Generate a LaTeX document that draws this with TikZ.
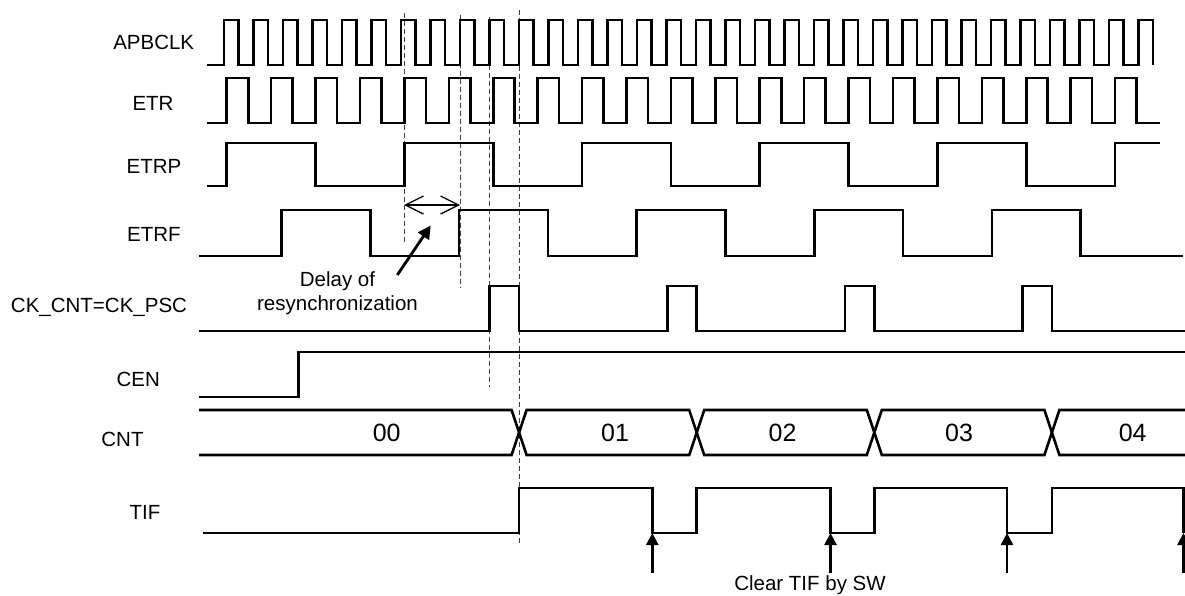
\documentclass[tikz,border=0pt]{standalone}
\usepackage{fontspec}
\setmainfont{Liberation Sans}
\usetikzlibrary{arrows.meta}
\begin{document}
\begin{tikzpicture}[x=1pt,y=-1pt,
  wave/.style={line width=2.6pt},
  guide/.style={line width=0.9pt, black!75, dash pattern=on 5pt off 3pt},
  lbl/.style={font=\fontsize{20.5}{24}\selectfont, inner sep=0pt, anchor=base},
  val/.style={font=\fontsize{25}{28}\selectfont, inner sep=0pt, anchor=base},
  clr/.style={line width=2.6pt, -{Triangle[length=12pt,width=12pt]}},
  ptr/.style={line width=2.8pt, -{Triangle[length=13pt,width=13pt]}},
  dly/.style={line width=1.3pt, {Straight Barb[length=18pt,width=18pt]}-{Straight Barb[length=18pt,width=18pt]}},
]
\useasboundingbox (0,0) rectangle (1185,595);

% signal labels
\node[lbl] (lapb)  at (153.7,49.3) {APBCLK};
\node[lbl] (letr)  at (153,110.7) {ETR};
\node[lbl] (letrp) at (154,173.3) {ETRP};
\node[lbl] (letrf) at (154,241) {ETRF};
\node[lbl] (lck)   at (99,312.8) {CK\_CNT=CK\_PSC};
\node[lbl] (lcen)  at (138.3,386.7) {CEN};
\node[lbl] (lcnt)  at (122.5,446.7) {CNT};
\node[lbl] (ltif)  at (145,519.3) {TIF};

% guide lines
\coordinate (g1a) at (404,13);  \coordinate (g1b) at (404,242);
\coordinate (g2a) at (460,15);  \coordinate (g2b) at (460,288);
\coordinate (g3a) at (489.6,17); \coordinate (g3b) at (489.6,387);
\coordinate (g4a) at (519.1,10); \coordinate (g4b) at (519.1,544);
\draw[guide] (g1a) -- (g1b);
\draw[guide] (g2a) -- (g2b);
\draw[guide] (g3a) -- (g3b);
\draw[guide] (g4a) -- (g4b);

% APBCLK
\draw[wave] (207,65) \foreach \k in {0,...,30} {
  -- ({224+29.5*\k},65) -- ({224+29.5*\k},20) -- ({238.5+29.5*\k},20) -- ({238.5+29.5*\k},65)}
  -- (1138.5,65) -- (1138.5,20) -- (1153,20) -- (1153,65);

% ETR
\draw[wave] (207,123) \foreach \k in {0,...,20} {
  -- ({226.7+44.42*\k},123) -- ({226.7+44.42*\k},78) -- ({248.2+44.42*\k},78) -- ({248.2+44.42*\k},123)}
  -- (1160,123);

% ETRP
\draw[wave] (207,186) \foreach \j in {0,...,4} {
  -- ({226.7+177.68*\j},186) -- ({226.7+177.68*\j},143) -- ({315.54+177.68*\j},143) -- ({315.54+177.68*\j},186)}
  -- (1115.1,186) -- (1115.1,143) -- (1160,143);

% ETRF
\draw[wave] (199,256) \foreach \j in {0,...,4} {
  -- ({281.5+177.6*\j},256) -- ({281.5+177.6*\j},210) -- ({370.3+177.6*\j},210) -- ({370.3+177.6*\j},256)}
  -- (1183,256);

% CK_CNT = CK_PSC
\draw[wave] (199,331) \foreach \j in {1,...,4} {
  -- ({312+177.6*\j},331) -- ({312+177.6*\j},286) -- ({341.5+177.6*\j},286) -- ({341.5+177.6*\j},331)}
  -- (1185,331);

% CEN
\draw[wave] (199,397) -- (298.3,397) -- (298.3,352) -- (1185,352);

% CNT bus
\draw[wave] (199,410) -- (511.6,410) -- (526.6,455) -- (689.2,455) -- (704.2,410) -- (866.8,410) -- (881.8,455) -- (1044.4,455) -- (1059.4,410) -- (1185,410);
\draw[wave] (199,455) -- (511.6,455) -- (526.6,410) -- (689.2,410) -- (704.2,455) -- (866.8,455) -- (881.8,410) -- (1044.4,410) -- (1059.4,455) -- (1185,455);
\node[val] (v0) at (386.7,441.5) {00};
\node[val] (v1) at (615,441.5) {01};
\node[val] (v2) at (782.5,441.5) {02};
\node[val] (v3) at (959,441.5) {03};
\node[val] (v4) at (1132.7,441.5) {04};

% TIF
\draw[wave] (203,533) -- (519.1,533) -- (519.1,488) -- (652.3,488) -- (652.3,533)
  -- (696.7,533) -- (696.7,488) -- (830.5,488) -- (830.5,533)
  -- (874.3,533) -- (874.3,488) -- (1007,488) -- (1007,533)
  -- (1051.9,533) -- (1051.9,488) -- (1183.5,488) -- (1183.5,533);

% clear arrows
\foreach \x [count=\i] in {652.3,830.5,1007,1183.5} {
  \coordinate (cb\i) at (\x,573);
  \coordinate (ct\i) at (\x,533);
  \draw[clr] (cb\i) -- (ct\i);
}
\node[lbl] (clear) at (810,590.5) {Clear TIF by SW};

% delay annotation
\coordinate (d1) at (404,205);
\coordinate (d2) at (460,205);
\draw[dly] (d1) -- (d2);
\node[lbl] (delay1) at (337.5,286.4) {Delay of};
\node[lbl] (delay2) at (337.5,310) {resynchronization};
\coordinate (pt) at (397.3,275);
\coordinate (ph) at (430.7,225.5);
\draw[ptr] (pt) -- (ph);
\end{tikzpicture}
\end{document}
